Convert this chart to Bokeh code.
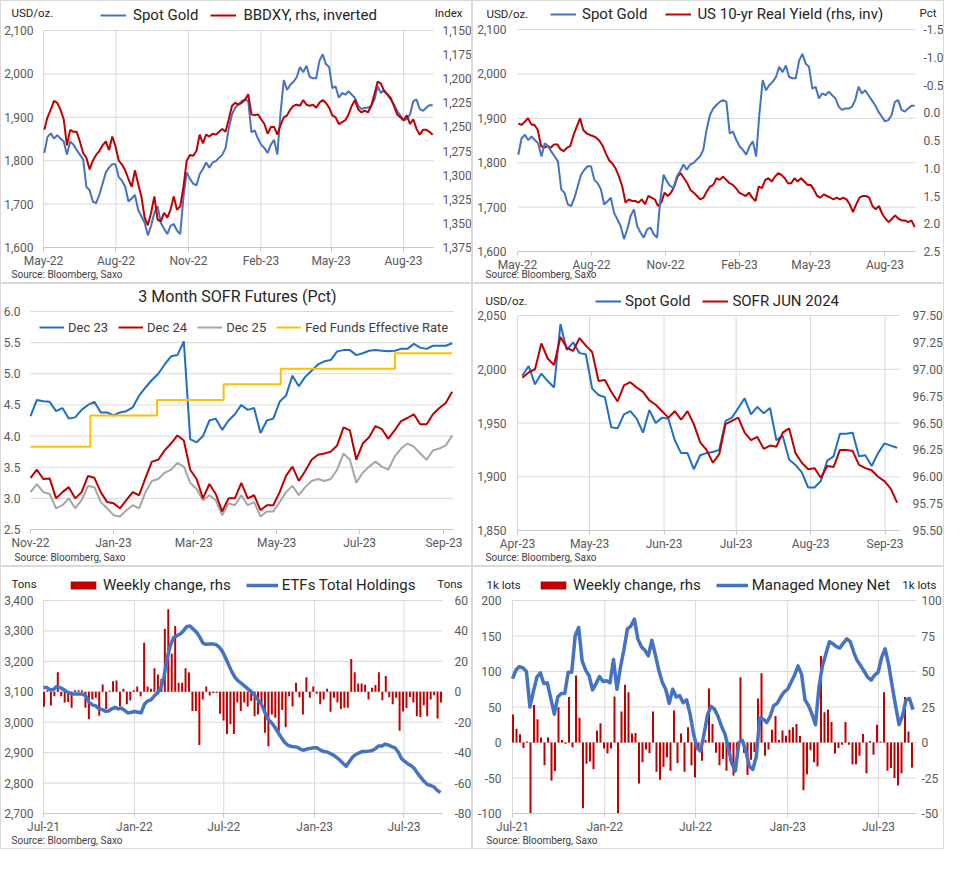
import pandas as pd
from bokeh.plotting import figure
from bokeh.models import (Range1d, LinearAxis, FixedTicker, NumeralTickFormatter,
                          DatetimeTickFormatter, Legend, LegendItem, Label)
from bokeh.layouts import column, row
from bokeh.embed import file_html
from bokeh.resources import INLINE

# ---------------- DATA ----------------
# Panel 1 / 2 : Spot Gold (USD/oz), May-22 .. Sep-23
gold_start, gold_end = "2022-05-02", "2023-09-07"
gold = [1818, 1855, 1863, 1851, 1859, 1851, 1844, 1814, 1844, 1837,
        1825, 1814, 1803, 1740, 1732, 1706, 1702, 1721, 1747, 1773,
        1784, 1792, 1792, 1762, 1754, 1740, 1706, 1713, 1721, 1687,
        1672, 1657, 1628, 1650, 1680, 1695, 1657, 1643, 1631, 1650,
        1654, 1639, 1631, 1717, 1773, 1758, 1747, 1743, 1769, 1781,
        1796, 1784, 1796, 1799, 1807, 1814, 1829, 1874, 1907, 1922,
        1930, 1937, 1941, 1937, 1866, 1870, 1851, 1837, 1829, 1818,
        1837, 1848, 1814, 1911, 1986, 1963, 1975, 1982, 1993, 2016,
        2004, 2019, 1993, 1990, 1990, 2030, 2045, 2023, 2016, 1967,
        1971, 1945, 1956, 1952, 1960, 1952, 1945, 1926, 1919, 1922,
        1922, 1926, 1941, 1971, 1956, 1963, 1952, 1941, 1930, 1915,
        1904, 1893, 1896, 1907, 1937, 1941, 1919, 1915, 1922, 1928, 1928]
# BBDXY index (rhs, inverted)
bbdxy = [1253, 1240, 1232, 1223, 1225, 1232, 1242, 1269, 1253, 1255,
         1255, 1265, 1277, 1282, 1294, 1285, 1279, 1275, 1269, 1265,
         1274, 1260, 1270, 1285, 1289, 1295, 1304, 1312, 1295, 1309,
         1322, 1344, 1352, 1339, 1322, 1346, 1348, 1339, 1344, 1336,
         1322, 1336, 1332, 1312, 1285, 1279, 1280, 1275, 1258, 1267,
         1258, 1260, 1257, 1258, 1255, 1252, 1255, 1242, 1228, 1225,
         1227, 1225, 1222, 1216, 1237, 1238, 1237, 1242, 1247, 1257,
         1250, 1250, 1258, 1248, 1240, 1238, 1232, 1228, 1227, 1228,
         1222, 1227, 1228, 1227, 1230, 1225, 1222, 1225, 1230, 1238,
         1240, 1247, 1245, 1243, 1237, 1228, 1222, 1232, 1235, 1233,
         1235, 1228, 1216, 1203, 1205, 1213, 1216, 1220, 1228, 1237,
         1240, 1243, 1238, 1247, 1242, 1252, 1258, 1253, 1253, 1255, 1258]
# US 10-yr real yield (Pct, rhs, inverted)
real_yield = [0.19, 0.22, 0.16, 0.10, 0.21, 0.22, 0.31, 0.60, 0.63, 0.60,
              0.63, 0.57, 0.57, 0.66, 0.69, 0.63, 0.60, 0.40, 0.25, 0.10,
              0.31, 0.37, 0.40, 0.42, 0.45, 0.51, 0.60, 0.74, 0.86, 0.92,
              1.01, 1.15, 1.33, 1.62, 1.56, 1.59, 1.59, 1.62, 1.56, 1.65,
              1.50, 1.53, 1.56, 1.68, 1.62, 1.44, 1.50, 1.44, 1.33, 1.15,
              1.09, 1.18, 1.27, 1.39, 1.44, 1.50, 1.56, 1.53, 1.42, 1.33,
              1.30, 1.18, 1.21, 1.15, 1.21, 1.27, 1.30, 1.36, 1.44, 1.47,
              1.50, 1.44, 1.53, 1.59, 1.33, 1.36, 1.21, 1.18, 1.24, 1.15,
              1.09, 1.12, 1.18, 1.27, 1.27, 1.18, 1.24, 1.18, 1.24, 1.30,
              1.30, 1.39, 1.50, 1.53, 1.47, 1.50, 1.53, 1.56, 1.53, 1.56,
              1.53, 1.56, 1.65, 1.79, 1.65, 1.53, 1.50, 1.50, 1.53, 1.68,
              1.74, 1.68, 1.82, 1.91, 1.97, 1.91, 1.85, 1.91, 1.94, 1.94,
              1.97, 1.94, 2.06]

# Panel 3 : 3M SOFR futures implied rates (Pct), Nov-22 .. Sep-23
sofr_start, sofr_end = "2022-11-01", "2023-09-07"
dec23 = [4.32, 4.58, 4.56, 4.55, 4.40, 4.45, 4.28, 4.30, 4.42, 4.50,
         4.55, 4.38, 4.38, 4.33, 4.38, 4.40, 4.46, 4.65, 4.78, 4.90,
         5.00, 5.15, 5.28, 5.30, 5.52, 3.95, 3.90, 4.00, 4.25, 4.28,
         4.10, 4.25, 4.35, 4.50, 4.42, 4.45, 4.05, 4.25, 4.28, 4.55,
         4.65, 4.97, 4.80, 4.95, 5.05, 5.15, 5.20, 5.22, 5.36, 5.38,
         5.38, 5.30, 5.33, 5.37, 5.38, 5.37, 5.36, 5.37, 5.40, 5.40,
         5.48, 5.42, 5.40, 5.45, 5.45, 5.45, 5.49]
dec24 = [3.33, 3.46, 3.31, 3.32, 3.00, 3.10, 3.18, 3.00, 3.10, 3.36,
         3.33, 3.10, 2.94, 2.92, 2.84, 2.97, 3.10, 3.05, 3.33, 3.59,
         3.62, 3.77, 3.88, 4.01, 3.93, 3.46, 3.31, 3.00, 3.23, 3.07,
         2.79, 3.00, 3.00, 3.25, 3.00, 3.05, 2.81, 2.89, 2.89, 3.10,
         3.36, 3.51, 3.28, 3.44, 3.62, 3.70, 3.72, 3.75, 3.85, 4.14,
         4.09, 3.62, 3.88, 3.98, 4.16, 4.11, 3.96, 4.09, 4.24, 4.29,
         4.35, 4.19, 4.19, 4.35, 4.45, 4.53, 4.71]
dec25 = [3.10, 3.23, 3.10, 3.07, 2.84, 2.89, 3.00, 2.84, 2.97, 3.20,
         3.18, 2.94, 2.84, 2.73, 2.71, 2.81, 2.89, 2.84, 3.10, 3.28,
         3.31, 3.41, 3.46, 3.57, 3.51, 3.25, 3.15, 2.97, 3.05, 2.97,
         2.73, 2.92, 2.89, 3.05, 2.89, 2.94, 2.71, 2.79, 2.79, 2.94,
         3.10, 3.20, 3.05, 3.18, 3.28, 3.31, 3.28, 3.31, 3.46, 3.72,
         3.62, 3.25, 3.41, 3.51, 3.59, 3.51, 3.46, 3.67, 3.80, 3.88,
         3.83, 3.72, 3.62, 3.77, 3.80, 3.85, 4.01]
fed_dates = ["2022-11-01", "2022-12-15", "2023-02-02", "2023-03-23",
             "2023-05-04", "2023-07-27", "2023-09-07"]
fed_rate = [3.83, 4.33, 4.58, 4.83, 5.08, 5.33, 5.33]

# Panel 4 : Spot Gold vs SOFR JUN 2024, Apr-23 .. Sep-23
p4_start, p4_end = "2023-04-03", "2023-09-06"
gold_recent = [1994, 2003, 1986, 1996, 1989, 1983, 2042, 2018, 2025, 2015,
               2014, 1982, 1976, 1974, 1946, 1945, 1958, 1961, 1954, 1941,
               1962, 1950, 1955, 1954, 1934, 1922, 1922, 1907, 1920, 1922,
               1923, 1925, 1952, 1955, 1964, 1973, 1958, 1965, 1959, 1964,
               1934, 1938, 1916, 1911, 1904, 1890, 1890, 1896, 1915, 1919,
               1940, 1940, 1941, 1919, 1920, 1910, 1922, 1931, 1929, 1927]
sofr_jun24 = [96.92, 96.97, 97.00, 97.24, 97.10, 97.04, 97.30, 97.20, 97.17, 97.29,
              97.22, 97.16, 96.89, 96.90, 96.79, 96.70, 96.85, 96.88, 96.83, 96.79,
              96.71, 96.67, 96.61, 96.55, 96.61, 96.53, 96.61, 96.49, 96.32, 96.25,
              96.13, 96.21, 96.49, 96.52, 96.55, 96.41, 96.34, 96.37, 96.26, 96.29,
              96.28, 96.41, 96.45, 96.22, 96.13, 96.07, 96.08, 95.99, 96.10, 96.09,
              96.25, 96.25, 96.24, 96.11, 96.08, 96.06, 96.00, 95.96, 95.89, 95.76]

# Panel 5 : Gold ETF holdings (Tons) and weekly change (Tons, rhs)
etf_start, etf_end = "2021-07-01", "2023-09-13"
etf_holdings = [3114, 3114, 3107, 3107, 3117, 3114, 3109, 3101, 3096, 3093,
                3093, 3093, 3093, 3086, 3065, 3057, 3054, 3044, 3042, 3036,
                3037, 3044, 3049, 3044, 3046, 3038, 3030, 3033, 3035, 3033,
                3031, 3059, 3070, 3073, 3086, 3096, 3112, 3148, 3211, 3253,
                3279, 3284, 3290, 3300, 3314, 3316, 3306, 3296, 3280, 3260,
                3256, 3257, 3257, 3255, 3247, 3232, 3210, 3186, 3163, 3145,
                3134, 3126, 3117, 3108, 3099, 3087, 3073, 3058, 3033, 3010,
                2999, 2985, 2968, 2951, 2935, 2925, 2921, 2919, 2918, 2911,
                2908, 2912, 2914, 2916, 2916, 2909, 2904, 2903, 2898, 2892,
                2885, 2876, 2865, 2855, 2871, 2886, 2894, 2899, 2904, 2904,
                2905, 2907, 2913, 2922, 2922, 2928, 2925, 2920, 2916, 2902,
                2881, 2871, 2863, 2857, 2847, 2831, 2818, 2805, 2795, 2792,
                2787, 2776, 2769]
etf_wk_start, etf_wk_end = "2021-07-02", "2023-09-14"
etf_weekly = [-9.9, 1, -9, -3, 12.8, -3, -7, -6.7, -10.5, 1,
              1, 1, -10.5, -18, -5, -4, -15.7, 4.8, -11.3, 0.6,
              7, 7.5, -9.6, 2, -8.2, -5.7, 1, 3.4, -3, 32.3,
              3.4, 2, 15.5, 11.3, 8.4, 41.5, 54.3, 25, 43.2, 6,
              6, 15.5, 12.6, -12.6, -12.6, -35, -5, 3.4, -2.5, -0.8,
              -0.8, -14.5, -18.9, -27.7, -21.4, -27.7, -7, -12.6, -7, -9.6,
              -6, -16, -15, -8.2, -27, -35.8, -15, -17, -26, -12,
              -23.3, -3, -9.6, 6, -3.6, -15, 9.6, -4, 3.4, -1.3,
              -8.2, -5, 2, -13.2, -4, -7, -11.3, -10.5, -10.5, 21.6,
              12.8, 5.5, 5.5, 4.6, -5, 2.7, 4.4, 12.8, -5.5, 10.3,
              -3.6, -8.2, -4, -25.6, -13, -10.7, -3.4, -7, -16, -16.6,
              -8.8, -16, -5, -2.3, -17.6, -7]

# Panel 6 : COMEX managed money net (1k lots) and weekly change (rhs)
mm_start, mm_end = "2021-07-01", "2023-09-08"
mm_net = [90, 102, 107, 105, 100, 50, 72, 92, 98, 83,
          84, 62, 40, 64, 69, 69, 99, 99, 150, 162,
          115, 102, 94, 74, 83, 93, 86, 87, 84, 117,
          75, 106, 131, 160, 164, 174, 146, 135, 130, 122,
          144, 124, 102, 85, 75, 55, 75, 64, 66, 56,
          60, 40, 12, -8, -12, 12, 39, 51, 47, 37,
          23, 12, -8, -30, -40, 0, 3, -12, -33, -38,
          -20, 35, 33, 28, 37, 52, 55, 64, 71, 75,
          85, 95, 108, 96, 60, 52, 40, 25, 78, 108,
          125, 142, 139, 135, 133, 140, 146, 142, 127, 115,
          108, 100, 92, 88, 95, 99, 120, 132, 110, 80,
          52, 25, 38, 60, 62, 46]
mm_wk_start, mm_wk_end = "2021-07-02", "2023-09-06"
mm_weekly = [19.7, 9.6, 5.8, -3.8, 0.7, -50.3, 26.4, 16.3, 3.6, -16,
             3.6, -26.8, -20.1, 24.8, 1.8, -0.9, 32, -3.4, 47.2, 17.4,
             -46.3, -15, -13.4, -18.8, 8.5, 13.6, -4.3, -7.8, -4.3, 32.4,
             -50.3, 21.9, 40.7, 35.3, 6.3, 6.7, -28.9, -13.9, -4.9, -7.6,
             21.9, -20.6, -26.2, -17.2, -10.5, -19.9, 22.6, -14.5, 6.3, -20.6,
             10.7, -16.1, -24.6, -3.8, -12.8, 1.8, 38, 13, -7.2, -16,
             -11.6, -19.9, -12.8, -23.3, -8.9, 45.9, -7.2, -22.8, -12.1, -6.7,
             30.9, 48.8, -9.4, -4.9, 8.9, 18.6, 1.8, 8.5, 4.7, 8.9,
             10.7, 13, 4.5, -33.6, -22.4, -5.4, -13.9, -16.8, 61, 21.3,
             23.3, 14.5, -7.8, -3.8, -1.6, 14.5, -1.6, -15.4, -15.4, -9.4,
             6, -21.7, 1.1, -8.7, 12.5, 0.7, 35.3, -19.9, -17.9, -25,
             -30.2, -21.7, 32, 7.8, -17.7]

ticks_p12 = ["2022-05-01", "2022-08-01", "2022-11-01", "2023-02-01", "2023-05-01", "2023-08-01"]
ticks_p3 = ["2022-11-01", "2023-01-01", "2023-03-01", "2023-05-01", "2023-07-01", "2023-09-01"]
ticks_p4 = ["2023-04-01", "2023-05-01", "2023-06-01", "2023-07-01", "2023-08-01", "2023-09-01"]
ticks_p56 = ["2021-07-01", "2022-01-01", "2022-07-01", "2023-01-01", "2023-07-01"]

# ---------------- STYLE ----------------
FONT = "Roboto"
W, H = 472, 283
GRID = "#D9D9D9"
AXIS = "#C8C8C8"
TICKC = "#595959"
TXT = "#262626"
BLUE = "#4472C4"
BLUE2 = "#1F6FC5"
RED = "#C00000"
GREY = "#A6A6A6"
ORANGE = "#FFC000"
TICKSIZE = "12px"


def ms(d):
    return pd.Timestamp(d).value // 10**6


def dr(a, b, n):
    return pd.date_range(a, b, periods=n)


def style_y(ax, standoff):
    ax.axis_line_color = None
    ax.major_tick_line_color = None
    ax.minor_tick_line_color = None
    ax.major_tick_out = 0
    ax.major_tick_in = 0
    ax.major_label_text_font = FONT
    ax.major_label_text_font_size = TICKSIZE
    ax.major_label_text_color = TICKC
    ax.major_label_standoff = standoff


def make_panel(L, R, T, B, d0, d1, xticks, y0, y1, yticks, yfmt,
               r0=None, r1=None, rticks=None, rfmt=None, vgrid=True, rstand=8, lstand=10):
    """Plot area spans pixels L..W-R and T..H-B of a W x H figure whose frame is the whole figure."""
    a, b = ms(d0), ms(d1)
    pw, ph = W - L - R, H - T - B
    kx = (b - a) / pw
    ky = (y1 - y0) / ph
    p = figure(width=W, height=H, x_axis_type="datetime",
               x_range=Range1d(a - L * kx, b + R * kx),
               y_range=Range1d(y0 - B * ky, y1 + T * ky),
               output_backend="svg", toolbar_location=None,
               min_border_left=0, min_border_right=0, min_border_top=0, min_border_bottom=0)
    p.styles = {"border": "1px solid #D9D9D9"}
    p.outline_line_color = None
    p.background_fill_color = "white"
    p.border_fill_color = "white"
    p.grid.visible = False
    # grid lines limited to the plot area
    p.segment(x0=[a] * len(yticks), x1=[b] * len(yticks), y0=yticks, y1=yticks,
              line_color=GRID, line_width=1)
    xt = [ms(t) for t in xticks]
    if vgrid:
        p.segment(x0=xt, x1=xt, y0=[y0] * len(xt), y1=[y1] * len(xt),
                  line_color=GRID, line_width=1)
    xa = p.xaxis[0]
    xa.fixed_location = y0
    xa.bounds = (a, b)
    xa.ticker = FixedTicker(ticks=xt)
    xa.formatter = DatetimeTickFormatter(days="%b-%y", months="%b-%y", years="%b-%y")
    xa.axis_line_color = AXIS
    xa.major_tick_line_color = AXIS
    xa.major_tick_in = 0
    xa.major_tick_out = 4
    xa.minor_tick_line_color = None
    xa.major_label_text_font = FONT
    xa.major_label_text_font_size = TICKSIZE
    xa.major_label_text_color = TICKC
    xa.major_label_standoff = 2
    ya = p.yaxis[0]
    ya.fixed_location = a
    ya.ticker = FixedTicker(ticks=yticks)
    ya.formatter = NumeralTickFormatter(format=yfmt)
    style_y(ya, lstand)
    if r0 is not None:
        kr = (r1 - r0) / ph
        p.extra_y_ranges = {"r": Range1d(r0 - B * kr, r1 + T * kr)}
        ra = LinearAxis(y_range_name="r", fixed_location=b, ticker=FixedTicker(ticks=rticks),
                        formatter=NumeralTickFormatter(format=rfmt))
        style_y(ra, rstand)
        p.add_layout(ra, "right")
    return p


def txt(p, px, py, text, size="11.5px", align="left", color=TXT):
    p.add_layout(Label(x=px, y=H - py, x_units="screen", y_units="screen",
                       text=text, text_font=FONT, text_font_size=size, text_color=color,
                       text_align=align, text_baseline="middle"))


def source(p, px=10):
    txt(p, px, H - 10, "Source: Bloomberg, Saxo", size="10px", color="#404040")


def legend(p, items, x, cy, size="15px", gw=26, gh=18, spacing=12, standoff=6, color=TXT):
    leg = Legend(items=[LegendItem(label=l, renderers=[r]) for l, r in items],
                 orientation="horizontal", location=(x, H - cy - 9),
                 label_text_font=FONT, label_text_font_size=size, label_text_color=color,
                 glyph_width=gw, glyph_height=gh, label_height=18,
                 label_standoff=standoff, spacing=spacing, padding=0, margin=0,
                 border_line_color=None, background_fill_alpha=0)
    p.add_layout(leg, "center")


# ---------------- PANEL 1 ----------------
p1 = make_panel(42, 40, 29, 37, "2022-05-01", "2023-09-08", ticks_p12,
                1600, 2100, list(range(1600, 2101, 100)), "0,0",
                r0=1375, r1=1150, rticks=list(range(1150, 1376, 25)), rfmt="0,0", rstand=9)
g1 = p1.line(dr(gold_start, gold_end, len(gold)), gold, line_color=BLUE, line_width=2)
b1 = p1.line(dr(gold_start, gold_end, len(bbdxy)), bbdxy, line_color=RED, line_width=2,
             y_range_name="r")
legend(p1, [("Spot Gold", g1), ("BBDXY, rhs, inverted", b1)], 99, 14, standoff=7, spacing=12)
txt(p1, 10, 11, "USD/oz.")
txt(p1, W - 11, 11, "Index", align="right")
source(p1)

# ---------------- PANEL 2 ----------------
p2 = make_panel(44, 30, 28, 33, "2022-05-01", "2023-09-08", ticks_p12,
                1600, 2100, list(range(1600, 2101, 100)), "0,0",
                r0=2.5, r1=-1.5, rticks=[-1.5, -1.0, -0.5, 0.0, 0.5, 1.0, 1.5, 2.0, 2.5],
                rfmt="0.0", vgrid=False, rstand=8, lstand=11)
ry = p2.line(dr(gold_start, gold_end, len(real_yield)), real_yield, line_color=RED,
             line_width=2, y_range_name="r")
g2 = p2.line(dr(gold_start, gold_end, len(gold)), gold, line_color=BLUE, line_width=2)
legend(p2, [("Spot Gold", g2), ("US 10-yr Real Yield (rhs, inv)", ry)], 77, 13,
       standoff=6, spacing=18)
txt(p2, 13, 12, "USD/oz.")
txt(p2, W - 9, 11, "Pct", align="right")
source(p2, 12)

# ---------------- PANEL 3 ----------------
p3 = make_panel(29, 20, 27, 38, "2022-11-01", "2023-09-08", ticks_p3,
                2.5, 6.0, [2.5, 3.0, 3.5, 4.0, 4.5, 5.0, 5.5, 6.0], "0.0", vgrid=False)
sd = dr(sofr_start, sofr_end, len(dec23))
c25 = p3.line(sd, dec25, line_color=GREY, line_width=2)
c24 = p3.line(sd, dec24, line_color=RED, line_width=2)
c23 = p3.line(sd, dec23, line_color=BLUE2, line_width=2)
ff = p3.step(pd.to_datetime(fed_dates), fed_rate, mode="after", line_color=ORANGE, line_width=2)
legend(p3, [("Dec 23", c23), ("Dec 24", c24), ("Dec 25", c25),
            ("Fed Funds Effective Rate", ff)], 38, 43, size="13px", gw=25,
       spacing=10, standoff=4, color="#404040")
txt(p3, W / 2, 12, "3 Month SOFR Futures (Pct)", size="16px", align="center")
source(p3, 13)

# ---------------- PANEL 4 ----------------
p4 = make_panel(44, 46, 31, 37, "2023-04-01", "2023-09-07", ticks_p4,
                1850, 2050, [1850, 1900, 1950, 2000, 2050], "0,0",
                r0=95.5, r1=97.5, rticks=[95.5, 95.75, 96.0, 96.25, 96.5, 96.75, 97.0, 97.25, 97.5],
                rfmt="0.00", rstand=13, lstand=11)
g4 = p4.line(dr(p4_start, p4_end, len(gold_recent)), gold_recent, line_color=BLUE2, line_width=2)
s4 = p4.line(dr(p4_start, p4_end, len(sofr_jun24)), sofr_jun24, line_color=RED,
             line_width=2, y_range_name="r")
legend(p4, [("Spot Gold", g4), ("SOFR JUN 2024", s4)], 122, 17, standoff=4, spacing=12)
txt(p4, 12, 16, "USD/oz.")
source(p4, 12)

# ---------------- PANEL 5 ----------------
p5 = make_panel(42, 31, 33, 37, "2021-07-01", "2023-09-17", ticks_p56,
                2700, 3400, list(range(2700, 3401, 100)), "0,0",
                r0=-80, r1=60, rticks=list(range(-80, 61, 20)), rfmt="0", rstand=12)
w5 = p5.vbar(x=dr(etf_wk_start, etf_wk_end, len(etf_weekly)), top=etf_weekly, bottom=0,
             width=4 * 86400000, fill_color=RED, line_color=None, y_range_name="r")
e5 = p5.line(dr(etf_start, etf_end, len(etf_holdings)), etf_holdings, line_color=BLUE,
             line_width=3.5, line_join="round")
legend(p5, [("Weekly change, rhs", w5), ("ETFs Total Holdings", e5)], 66, 18,
       gw=32, gh=10, spacing=15, standoff=4)
txt(p5, 10, 16, "Tons")
txt(p5, W - 11, 16, "Tons", align="right")
source(p5)

# ---------------- PANEL 6 ----------------
p6 = make_panel(39, 29, 33, 37, "2021-07-01", "2023-09-15", ticks_p56,
                -100, 200, list(range(-100, 201, 50)), "0",
                r0=-50, r1=100, rticks=list(range(-50, 101, 25)), rfmt="0", rstand=5, lstand=11)
w6 = p6.vbar(x=dr(mm_wk_start, mm_wk_end, len(mm_weekly)), top=mm_weekly, bottom=0,
             width=4 * 86400000, fill_color=RED, line_color=None, y_range_name="r")
m6 = p6.line(dr(mm_start, mm_end, len(mm_net)), mm_net, line_color=BLUE,
             line_width=3.5, line_join="round")
legend(p6, [("Weekly change, rhs", w6), ("Managed Money Net", m6)], 64, 18,
       gw=32, gh=10, spacing=15, standoff=4)
txt(p6, 13, 17, "1k lots")
txt(p6, W - 9, 17, "1k lots", align="right")
source(p6, 13)

layout = column(row(p1, p2), row(p3, p4), row(p5, p6))
open("out.html", "w").write(file_html(layout, INLINE))
